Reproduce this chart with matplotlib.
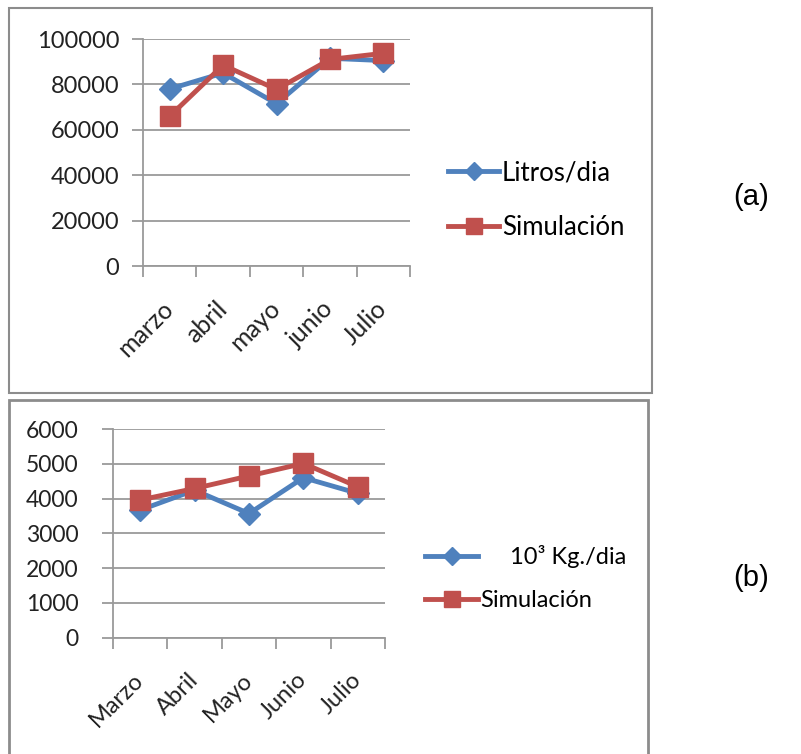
import matplotlib
matplotlib.use("Agg")
import matplotlib.pyplot as plt
from matplotlib.patches import Rectangle
from matplotlib.lines import Line2D

plt.rcParams['font.family'] = ['Lato', 'DejaVu Sans']

# Panel (a)
months_a = ["marzo", "abril", "mayo", "junio", "Julio"]
litros = [78000, 85000, 71500, 91500, 90500]
sim_a = [66000, 88500, 77800, 91000, 93700]
yticks_a = [0, 20000, 40000, 60000, 80000, 100000]

# Panel (b)
months_b = ["Marzo", "Abril", "Mayo", "Junio", "Julio"]
kg = [3670, 4240, 3570, 4600, 4150]
sim_b = [3960, 4290, 4650, 5010, 4340]
yticks_b = [0, 1000, 2000, 3000, 4000, 5000, 6000]

BLUE = "#4F81BD"
RED = "#C0504D"
GRID = "#9a9a9a"
W, H = 801, 754

fig = plt.figure(figsize=(W / 100, H / 100), dpi=100)


def fx(px):
    return px / W


def fy(py):
    return 1 - py / H


# outer frames
fig.add_artist(Rectangle((fx(9), fy(393)), fx(652) - fx(9), fy(8) - fy(393),
                         transform=fig.transFigure, fill=False, ec="#8c8c8c", lw=1.5))
fig.add_artist(Rectangle((fx(9), fy(760)), fx(648) - fx(9), fy(400) - fy(760),
                         transform=fig.transFigure, fill=False, ec="#8c8c8c", lw=2))


def style_axes(ax, cats, yticks, fs_y, pad_y, fs_x, pad_x):
    n = len(cats)
    ax.set_xlim(-0.5, n - 0.5)
    ax.set_ylim(yticks[0], yticks[-1])
    ax.set_yticks(yticks)
    ax.set_yticklabels([str(v) for v in yticks], fontsize=fs_y, color="#222222")
    ax.yaxis.grid(True, color=GRID, lw=1.3)
    ax.set_axisbelow(True)
    for s in ["top", "right"]:
        ax.spines[s].set_visible(False)
    for s in ["left", "bottom"]:
        ax.spines[s].set_color(GRID)
        ax.spines[s].set_linewidth(1.3)
    ax.tick_params(axis="y", length=8, width=1.3, color=GRID, pad=pad_y)
    ax.set_xticks(range(n))
    ax.set_xticklabels(cats, rotation=45, ha="right", va="center",
                       rotation_mode="anchor", fontsize=fs_x, color="#222222")
    ax.tick_params(axis="x", which="major", length=0, pad=pad_x)
    ax.set_xticks([i - 0.5 for i in range(n + 1)], minor=True)
    ax.tick_params(axis="x", which="minor", length=8, width=1.3, color=GRID)


# Panel (a)
ax1 = fig.add_axes([fx(143), fy(266), fx(410) - fx(143), fy(39) - fy(266)])
x = list(range(len(months_a)))
ax1.plot(x, litros, color=BLUE, lw=3.5, marker="D", ms=11, mec=BLUE)
ax1.plot(x, sim_a, color=RED, lw=3.5, marker="s", ms=15, mec=RED)
style_axes(ax1, months_a, yticks_a, 17, 9, 18, 28)
h1 = Line2D([], [], color=BLUE, lw=3.5, marker="D", ms=9)
h2 = Line2D([], [], color=RED, lw=3.5, marker="s", ms=11)
fig.legend([h1, h2], ["Litros/dia", "Simulación"], loc="center left",
           bbox_to_anchor=(fx(448), fy(200)), frameon=False, fontsize=18.5,
           handlelength=2.0, handletextpad=0.1, labelspacing=1.15,
           borderpad=0, borderaxespad=0)

# Panel (b)
ax2 = fig.add_axes([fx(113), fy(637.7), fx(385) - fx(113), fy(429) - fy(637.7)])
x = list(range(len(months_b)))
ax2.plot(x, kg, color=BLUE, lw=3.5, marker="D", ms=11, mec=BLUE)
ax2.plot(x, sim_b, color=RED, lw=3.5, marker="s", ms=15, mec=RED)
style_axes(ax2, months_b, yticks_b, 16.5, 17, 17, 28)
h3 = Line2D([], [], color=BLUE, lw=3.5, marker="D", ms=9)
h4 = Line2D([], [], color=RED, lw=3.5, marker="s", ms=11)
fig.legend([h3, h4], ["     10³ Kg./dia", "Simulación"], loc="center left",
           bbox_to_anchor=(fx(425), fy(578)), frameon=False, fontsize=17,
           handlelength=2.25, handletextpad=0.1, labelspacing=0.95,
           borderpad=0, borderaxespad=0)

fig.text(fx(751), fy(197), "(a)", fontsize=21, family="Liberation Sans", ha="center", va="center")
fig.text(fx(751), fy(578), "(b)", fontsize=21, family="Liberation Sans", ha="center", va="center")

fig.savefig("out.png", dpi=100)
